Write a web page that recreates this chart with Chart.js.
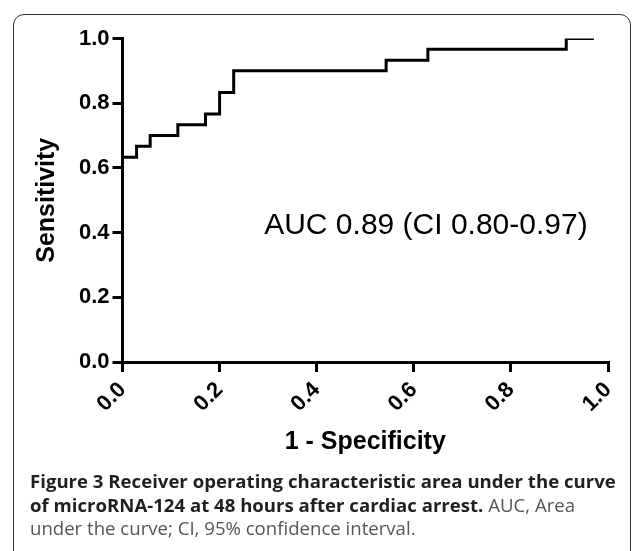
<!DOCTYPE html>
<html>
<head>
<meta charset="utf-8">
<script src="https://cdn.jsdelivr.net/npm/chart.js@4"></script>
<style>
  html, body { margin: 0; padding: 0; background: #fff; }
  body { width: 634px; height: 551px; position: relative; overflow: hidden; }
  #frame { position: absolute; left: 13px; top: 14px; width: 618px; height: 560px;
           border: 1.5px solid #333; border-radius: 11px; box-sizing: border-box; }
  #wrap { position: absolute; left: 0; top: 0; width: 634px; height: 470px; }
  #caption { position: absolute; left: 30px; top: 469px; width: 596px;
             font-family: "Open Sans", sans-serif; font-size: 18.6px; line-height: 23.5px;
             color: #555; white-space: normal; }
  #caption b { font-weight: 700; color: #231f20; }
</style>
</head>
<body>
<div id="frame"></div>
<div id="wrap"><canvas id="c"></canvas></div>
<div id="caption"><b>Figure 3 Receiver operating characteristic area under the curve of microRNA-124 at 48 hours after cardiac arrest.</b> AUC, Area under the curve; CI, 95% confidence interval.</div>
<script>
// ROC curve points
const fpr = [0.000, 0.029, 0.057, 0.114, 0.171, 0.200, 0.229, 0.543, 0.629, 0.914, 0.971];
const tpr = [0.633, 0.667, 0.700, 0.733, 0.767, 0.833, 0.900, 0.933, 0.967, 1.000, 1.000];
const tickValues = [0.0, 0.2, 0.4, 0.6, 0.8, 1.0];
const xTitle = '1 - Specificity';
const yTitle = 'Sensitivity';
const aucText = 'AUC 0.89 (CI 0.80-0.97)';
const aucPos = [0.625, 0.42];

const points = fpr.map((x, i) => ({ x: x, y: tpr[i] }));

const aucLabel = {
  id: 'aucLabel',
  afterDatasetsDraw(chart) {
    const { ctx, scales } = chart;
    ctx.save();
    ctx.font = '30px "Liberation Sans", Arial, sans-serif';
    ctx.fillStyle = '#000';
    ctx.textAlign = 'center';
    ctx.textBaseline = 'middle';
    ctx.fillText(aucText, scales.x.getPixelForValue(aucPos[0]), scales.y.getPixelForValue(aucPos[1]));
    ctx.restore();
  }
};

const axisCommon = {
  type: 'linear', min: 0, max: 1,
  grid: { drawOnChartArea: false, drawTicks: true, tickLength: 10, lineWidth: 3, color: '#000' },
  border: { display: true, width: 3, color: '#000' },
};

new Chart(document.getElementById('c'), {
  type: 'scatter',
  data: {
    datasets: [{
      data: points,
      showLine: true,
      stepped: 'before',
      borderColor: '#000',
      borderWidth: 3,
      pointRadius: 0,
      fill: false
    }]
  },
  options: {
    responsive: true,
    maintainAspectRatio: false,
    animation: false,
    layout: { padding: { left: 0, top: 38.5, right: 26, bottom: 0 } },
    plugins: { legend: { display: false }, tooltip: { enabled: false } },
    scales: {
      x: Object.assign({}, axisCommon, {
        afterBuildTicks(s) { s.ticks = tickValues.map(v => ({ value: v })); },
        afterFit(s) { s.height = 108; },
        ticks: {
          color: '#000', padding: 5, minRotation: 45, maxRotation: 45,
          font: { family: '"Liberation Sans", Arial, sans-serif', size: 22, weight: 'bold' },
          callback: v => Number(v).toFixed(1)
        },
        title: { display: true, text: xTitle, color: '#000', padding: { top: 0, bottom: 13 },
                 font: { family: '"Liberation Sans", Arial, sans-serif', size: 25, weight: 'bold' } }
      }),
      y: Object.assign({}, axisCommon, {
        afterBuildTicks(s) { s.ticks = tickValues.map(v => ({ value: v })); },
        afterFit(s) { s.width = 122.5; },
        ticks: {
          color: '#000', padding: 3,
          font: { family: '"Liberation Sans", Arial, sans-serif', size: 22, weight: 'bold' },
          callback: v => Number(v).toFixed(1)
        },
        title: { display: true, text: yTitle, color: '#000', padding: { top: 32, bottom: 0 },
                 font: { family: '"Liberation Sans", Arial, sans-serif', size: 25, weight: 'bold' } }
      })
    }
  },
  plugins: [aucLabel]
});
</script>
</body>
</html>
